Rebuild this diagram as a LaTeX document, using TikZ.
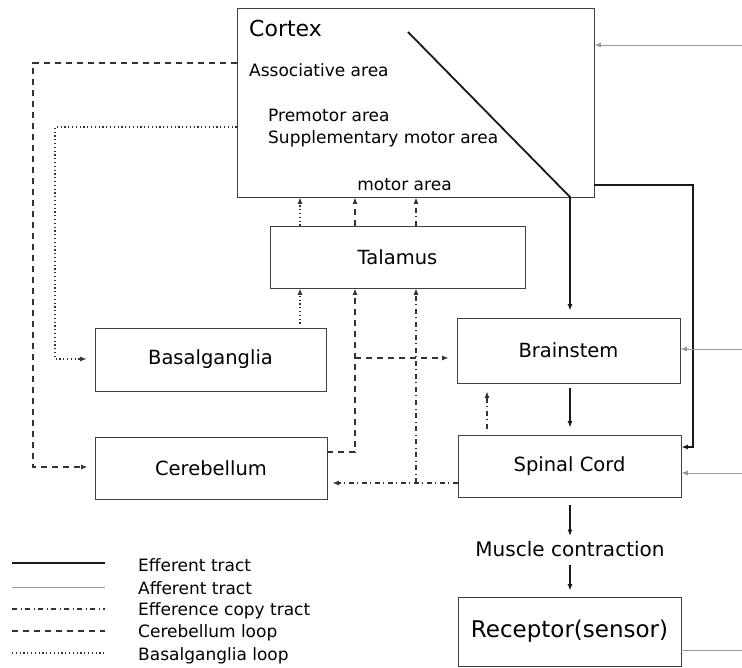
\documentclass[tikz,border=0pt]{standalone}
\usepackage{fontspec}
\setmainfont{DejaVu Sans}
\usetikzlibrary{arrows.meta}
\begin{document}
\begin{tikzpicture}[x=1pt,y=-1pt,
 box/.style={draw=black!75, line width=0.8pt, inner sep=0pt, anchor=center},
 tip/.style={-{Latex[length=6.5pt,width=5pt]}},
 efferent/.style={line width=1.8pt, draw=black!90},
 afferent/.style={line width=0.8pt, draw=black!40},
 effcopy/.style={line width=1.1pt, draw=black!80, dash pattern=on 5pt off 3.5pt on 1pt off 3.5pt},
 cerloop/.style={line width=1.5pt, draw=black!80, dash pattern=on 6pt off 5pt},
 bgloop/.style={line width=1.2pt, draw=black!80, dash pattern=on 1.2pt off 2.6pt},
 lbl/.style={font=\fontsize{19.5}{22}\selectfont},
 area/.style={anchor=base west, inner sep=0pt, font=\fontsize{17}{20}\selectfont},
 legtext/.style={anchor=west, inner sep=0pt, font=\fontsize{17}{20}\selectfont}
]
\useasboundingbox (0,0) rectangle (742,668);

% boxes
\node[box, minimum width=357pt, minimum height=189pt] (cortex) at (415.5,102.5) {};
\node[box, lbl, minimum width=255pt, minimum height=62pt] (tal) at (397.5,257) {Talamus};
\node[box, lbl, minimum width=231pt, minimum height=63pt] (bg) at (210.5,359.5) {Basalganglia};
\node[box, lbl, minimum width=223pt, minimum height=65pt] (brain) at (568.5,350.5) {Brainstem};
\node[box, lbl, minimum width=232pt, minimum height=62pt] (cereb) at (211,468) {Cerebellum};
\node[box, lbl, minimum width=223pt, minimum height=62pt] (spinal) at (569.5,466) {Spinal Cord};
\node[box, font=\fontsize{23}{26}\selectfont, minimum width=223pt, minimum height=69pt] (rec) at (569.5,631.5) {Receptor(sensor)};

% cortex texts
\node[anchor=base west, inner sep=0pt, font=\fontsize{22}{26}\selectfont] (tcortex) at (249,37) {Cortex};
\node[area] (tassoc) at (249,77) {Associative area};
\node[area] (tpre) at (268,122) {Premotor area};
\node[area] (tsup) at (268,144) {Supplementary motor area};
\node[area, anchor=base] (tmot) at (404.5,191) {motor area};

% muscle contraction
\node[inner sep=0pt, font=\fontsize{20}{24}\selectfont] (muscle) at (570,549) {Muscle contraction};

% coordinates
\coordinate (e0) at (408,32);
\coordinate (e1) at (570,197);
\coordinate (r1) at (693,185);
\coordinate (r2) at (693,447);
\coordinate (a1) at (742,45);
\coordinate (a2) at (742,349);
\coordinate (a3) at (742,473);
\coordinate (a4) at (742,650);
\coordinate (c1) at (33,63);
\coordinate (c2) at (33,467);
\coordinate (c3) at (355,452);
\coordinate (c4) at (355,358);
\coordinate (b1) at (55,127);
\coordinate (b2) at (55,359);
\coordinate (b3) at (300,300);
\coordinate (f1) at (416,483);
\coordinate (f2) at (487,400);
\coordinate (m0) at (570,400);

% efferent tract
\draw[efferent, tip, shorten >=7pt] (e0) -- (e1) -- (e1 |- brain.north);
\draw[efferent, tip] (cortex.east |- r1) -- (r1) -- (r2) -- (spinal.east |- r2);
\draw[efferent, tip, shorten <=5pt, shorten >=7pt] (brain.south -| m0) -- (spinal.north -| m0);
\draw[efferent, tip, shorten <=8pt, shorten >=5pt] (spinal.south -| m0) -- (muscle.north -| m0);
\draw[efferent, tip, shorten <=8pt, shorten >=6pt] (muscle.south -| m0) -- (rec.north -| m0);

% afferent tract
\draw[afferent, tip] (a1) -- (cortex.east |- a1);
\draw[afferent, tip] (a2) -- (brain.east |- a2);
\draw[afferent, tip] (a3) -- (spinal.east |- a3);
\draw[afferent] (rec.east |- a4) -- (a4);

% cerebellum loop
\draw[cerloop, tip, shorten >=7pt] (cortex.west |- c1) -- (c1) -- (c2) -- (cereb.west |- c2);
\draw[cerloop, tip] (cereb.east |- c3) -- (c3) -- (c3 |- tal.south);
\draw[cerloop, tip, shorten >=8pt] (c4) -- (brain.west |- c4);
\draw[cerloop, tip] (tal.north -| c3) -- (cortex.south -| c3);

% basalganglia loop
\draw[bgloop, tip, shorten >=8pt] (cortex.west |- b1) -- (b1) -- (b2) -- (bg.west |- b2);
\draw[bgloop, tip, shorten <=4pt] (bg.north -| b3) -- (tal.south -| b3);
\draw[bgloop, tip] (tal.north -| b3) -- (cortex.south -| b3);

% efference copy tract
\draw[effcopy, tip, shorten >=5pt] (spinal.west |- f1) -- (cereb.east |- f1);
\draw[effcopy, tip] (f1) -- (f1 |- tal.south);
\draw[effcopy, tip] (tal.north -| f1) -- (cortex.south -| f1);
\draw[effcopy, tip, shorten <=6pt, shorten >=8pt] (spinal.north -| f2) -- (brain.south -| f2);

% legend
\coordinate (l1a) at (12,563); \coordinate (l1b) at (105,563);
\coordinate (l2a) at (12,587); \coordinate (l2b) at (105,587);
\coordinate (l3a) at (12,609); \coordinate (l3b) at (105,609);
\coordinate (l4a) at (12,631); \coordinate (l4b) at (105,631);
\coordinate (l5a) at (12,653); \coordinate (l5b) at (105,653);
\draw[efferent] (l1a) -- (l1b);
\draw[afferent] (l2a) -- (l2b);
\draw[effcopy] (l3a) -- (l3b);
\draw[cerloop] (l4a) -- (l4b);
\draw[bgloop] (l5a) -- (l5b);
\node[legtext] (g1) at (138,565) {Efferent tract};
\node[legtext] (g2) at (138,588) {Afferent tract};
\node[legtext] (g3) at (138,611) {Efference copy tract};
\node[legtext] (g4) at (138,633) {Cerebellum loop};
\node[legtext] (g5) at (138,656) {Basalganglia loop};
\end{tikzpicture}
\end{document}
